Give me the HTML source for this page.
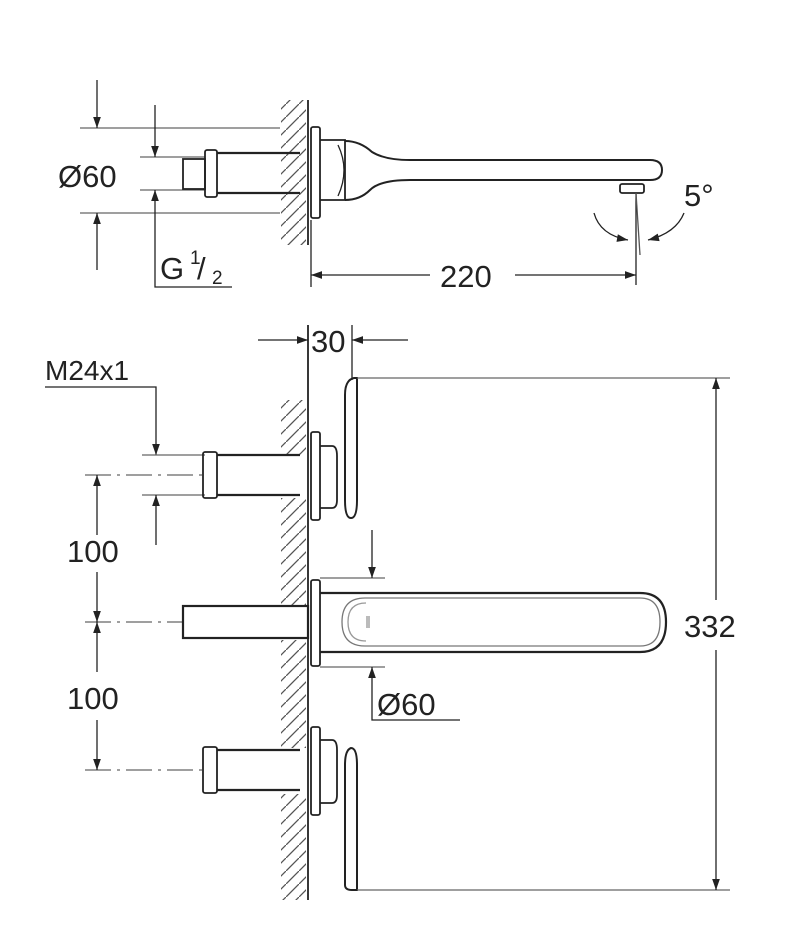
<!DOCTYPE html>
<html><head><meta charset="utf-8"><style>
html,body{margin:0;padding:0;background:#fff}
svg{display:block}
text{font-family:"Liberation Sans",Arial,sans-serif;fill:#222}
</style></head><body>
<svg width="790" height="950" viewBox="0 0 790 950" xmlns="http://www.w3.org/2000/svg">
<defs>
<marker id="a" viewBox="0 0 10 10" refX="10" refY="5" markerWidth="13" markerHeight="11" orient="auto-start-reverse" markerUnits="userSpaceOnUse"><path d="M0,1.5 L10,5 L0,8.5 z" fill="#222"/></marker>
<pattern id="h" width="13" height="13" patternUnits="userSpaceOnUse"><path d="M-3,16 L16,-3" stroke="#555" stroke-width="1.3"/></pattern>
</defs>
<g stroke="#222" fill="none" stroke-width="1.3">
<!-- TOP VIEW -->
<rect x="281" y="100" width="25" height="145" fill="url(#h)" stroke="none"/>
<line x1="308" y1="100" x2="308" y2="245" stroke-width="1.8"/>
<line x1="80" y1="128" x2="280" y2="128" stroke="#666"/>
<line x1="80" y1="213" x2="280" y2="213" stroke="#666"/>
<line x1="97" y1="80" x2="97" y2="128" marker-end="url(#a)"/>
<line x1="97" y1="270" x2="97" y2="213" marker-end="url(#a)"/>
<line x1="140" y1="157" x2="205" y2="157" stroke="#666"/>
<line x1="140" y1="190" x2="205" y2="190" stroke="#666"/>
<line x1="155" y1="105" x2="155" y2="157" marker-end="url(#a)"/>
<polyline points="232,287 155,287 155,190" marker-end="url(#a)"/>
<rect x="183" y="159" width="22" height="30" stroke-width="1.8"/>
<rect x="205" y="150" width="12" height="47" rx="2" stroke-width="1.8"/>
<path d="M217,153 L300,153 M217,193 L300,193" stroke-width="2.2"/>
<rect x="311" y="127" width="9" height="91" rx="2" stroke-width="1.8"/>
<path d="M320,140 L345,140 L345,200 L320,200" stroke-width="1.8"/>
<path d="M345,141 Q360,141 372,152 Q385,160 410,160 L650,160 Q662,160 662,170 Q662,180 650,180 L410,180 Q380,180 370,190 Q360,200 345,200" stroke-width="2"/>
<path d="M338,145 Q350,170 338,196" stroke-width="1.3"/>
<rect x="620" y="184" width="24" height="9" rx="2" stroke-width="1.8"/>
<line x1="311" y1="220" x2="311" y2="287"/>
<line x1="636" y1="193" x2="636" y2="285"/>
<line x1="636" y1="193" x2="640" y2="255" stroke="#555"/>
<line x1="311" y1="275" x2="430" y2="275" marker-start="url(#a)"/>
<line x1="515" y1="275" x2="636" y2="275" marker-end="url(#a)"/>
<path d="M594,213 Q600,235 628,240" marker-end="url(#a)"/>
<path d="M684,213 Q676,233 648,240" marker-end="url(#a)"/>
<!-- BOTTOM VIEW -->
<rect x="281" y="400" width="25" height="500" fill="url(#h)" stroke="none"/>
<rect x="281" y="455" width="28" height="43" fill="#fff" stroke="none"/>
<rect x="281" y="605" width="28" height="35" fill="#fff" stroke="none"/>
<rect x="281" y="748" width="28" height="46" fill="#fff" stroke="none"/>
<line x1="308" y1="325" x2="308" y2="900" stroke-width="1.8"/>
<line x1="352" y1="325" x2="352" y2="380"/>
<line x1="258" y1="340" x2="308" y2="340" marker-end="url(#a)"/>
<line x1="408" y1="340" x2="352" y2="340" marker-end="url(#a)"/>
<polyline points="45,387 156,387 156,455" marker-end="url(#a)"/>
<line x1="142" y1="455" x2="205" y2="455" stroke="#666"/>
<line x1="142" y1="495" x2="205" y2="495" stroke="#666"/>
<line x1="156" y1="545" x2="156" y2="495" marker-end="url(#a)"/>
<line x1="85" y1="475" x2="205" y2="475" stroke="#666" stroke-dasharray="26,6,3,6"/>
<line x1="85" y1="622" x2="183" y2="622" stroke="#666" stroke-dasharray="26,6,3,6"/>
<line x1="85" y1="770" x2="205" y2="770" stroke="#666" stroke-dasharray="26,6,3,6"/>
<line x1="97" y1="535" x2="97" y2="475" marker-end="url(#a)"/>
<line x1="97" y1="572" x2="97" y2="622" marker-end="url(#a)"/>
<line x1="97" y1="672" x2="97" y2="622" marker-end="url(#a)"/>
<line x1="97" y1="720" x2="97" y2="770" marker-end="url(#a)"/>
<!-- top handle -->
<rect x="203" y="452" width="14" height="46" rx="2" stroke-width="1.8"/>
<path d="M217,455 L300,455 M217,495 L300,495" stroke-width="2.2"/>
<rect x="311" y="432" width="9" height="88" rx="2" stroke-width="1.8"/>
<path d="M320,446 L332,446 Q337,446 337,456 L337,500 Q337,508 332,508 L320,508" stroke-width="1.8"/>
<path d="M354,378 Q345,380 345,395 L345,500 Q345,518 351,518 Q357,518 357,500 L357,378 Z" stroke-width="2"/>
<!-- center spout -->
<rect x="183" y="606" width="125" height="32" stroke-width="2.2"/>
<rect x="311" y="580" width="9" height="86" rx="2" stroke-width="1.8"/>
<line x1="320" y1="578" x2="385" y2="578" stroke="#666"/>
<line x1="320" y1="667" x2="385" y2="667" stroke="#666"/>
<path d="M320,593 L640,593 Q666,593 666,622 Q666,652 640,652 L320,652" stroke-width="2.2"/>
<path d="M365,598 L640,598 Q660,598 660,622 Q660,646 640,646 L365,646 Q342,646 342,622 Q342,598 365,598 Z" stroke="#777" stroke-width="1.3"/>
<path d="M366,603 Q348,603 348,622 Q348,641 366,641" stroke="#999"/>
<rect x="366" y="616" width="4" height="12" fill="#bbb" stroke="none"/>
<line x1="372" y1="530" x2="372" y2="578" marker-end="url(#a)"/>
<polyline points="460,720 372,720 372,667" marker-end="url(#a)"/>
<!-- bottom handle -->
<rect x="203" y="747" width="14" height="46" rx="2" stroke-width="1.8"/>
<path d="M217,750 L300,750 M217,790 L300,790" stroke-width="2.2"/>
<rect x="311" y="727" width="9" height="88" rx="2" stroke-width="1.8"/>
<path d="M320,740 L332,740 Q337,740 337,750 L337,795 Q337,803 332,803 L320,803" stroke-width="1.8"/>
<path d="M351,748 Q345,750 345,765 L345,885 Q345,890 352,890 L357,890 L357,765 Q357,748 351,748 Z" stroke-width="2"/>
<!-- 332 -->
<line x1="357" y1="378" x2="730" y2="378" stroke="#666"/>
<line x1="357" y1="890" x2="730" y2="890" stroke="#666"/>
<line x1="716" y1="600" x2="716" y2="378" marker-end="url(#a)"/>
<line x1="716" y1="650" x2="716" y2="890" marker-end="url(#a)"/>
</g>
<g font-size="31">
<text x="58" y="187">Ø60</text>
<text x="160" y="279">G</text>
<text x="190" y="264" font-size="19">1</text>
<text x="197" y="279">/</text>
<text x="212" y="284" font-size="19">2</text>
<text x="440" y="287">220</text>
<text x="684" y="206">5°</text>
<text x="311" y="352">30</text>
<text x="45" y="380" font-size="28">M24x1</text>
<text x="67" y="562">100</text>
<text x="67" y="709">100</text>
<text x="377" y="715">Ø60</text>
<text x="684" y="637">332</text>
</g>
</svg>
</body></html>
